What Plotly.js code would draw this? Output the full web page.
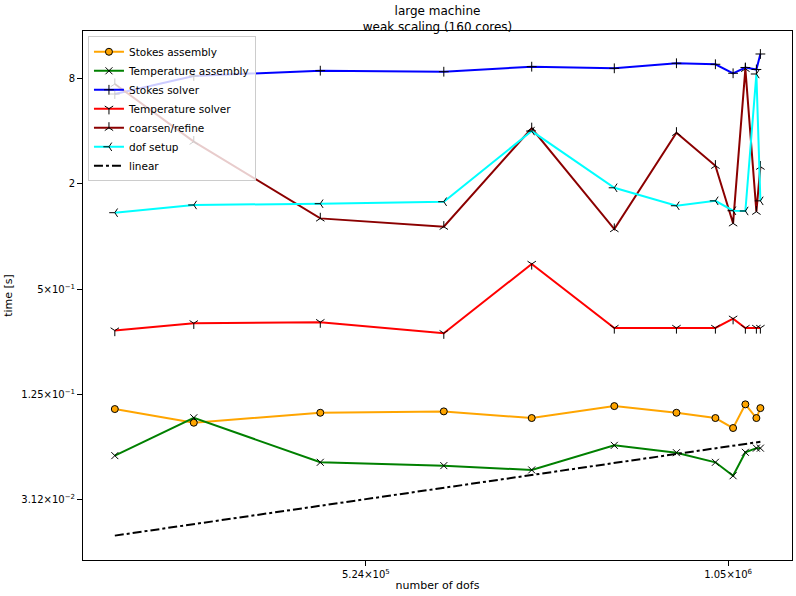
<!DOCTYPE html>
<html>
<head>
<meta charset="utf-8">
<script src="https://cdn.plot.ly/plotly-3.0.1.min.js"></script>
<style>
  body { margin: 0; background: #fff; }
  #chart { width: 796px; height: 596px; }
</style>
</head>
<body>
<div id="chart"></div>
<script>
// number of dofs (x) and timings in seconds
const dofs = [324300, 377200, 480500, 608600, 720100, 843400, 949900, 1023400, 1058600, 1083800, 1106900, 1115400];

const stokesAssembly = [0.1032, 0.0862, 0.0983, 0.1001, 0.0917, 0.1073, 0.0983, 0.0917, 0.0804, 0.1098, 0.0917, 0.1045];
const temperatureAssembly = [0.0559, 0.0920, 0.0512, 0.0490, 0.0463, 0.0640, 0.0581, 0.0512, 0.0429, 0.0584, 0.0617, 0.0617];
const stokesSolver = [6.53, 8.28, 8.88, 8.76, 9.36, 9.16, 9.79, 9.66, 8.58, 9.26, 9.02, 11.06];
const temperatureSolver = [0.290, 0.319, 0.324, 0.280, 0.697, 0.300, 0.300, 0.300, 0.339, 0.300, 0.300, 0.300];
const coarsenRefine = [7.45, 3.49, 1.27, 1.138, 4.16, 1.104, 3.92, 2.54, 1.19, 9.10, 1.387, 2.51];
const dofSetup = [1.369, 1.515, 1.541, 1.582, 4.01, 1.90, 1.50, 1.60, 1.405, 1.40, 8.50, 1.60];
const linear = [0.0195, 0.0227, 0.0289, 0.0366, 0.0433, 0.0507, 0.0571, 0.0615, 0.0637, 0.0652, 0.0666, 0.0671];

const xTickVals = [524288, 1048576];
const xTickText = ['5.24×10<sup>5</sup>', '1.05×10<sup>6</sup>'];
const yTickVals = [0.03125, 0.125, 0.5, 2, 8];
const yTickText = ['3.12×10<sup>−2</sup>', '1.25×10<sup>−1</sup>', '5×10<sup>−1</sup>', '2', '8'];

function series(name, y, color, symbol, extra) {
  const t = {
    x: dofs, y: y, name: name, type: 'scatter', mode: 'lines+markers',
    line: { color: color, width: 2 },
    marker: { symbol: symbol, size: 7, color: 'black', line: { color: 'black', width: 1 } }
  };
  return Object.assign(t, extra || {});
}

const traces = [
  series('Stokes assembly', stokesAssembly, 'orange', 'circle',
    { marker: { symbol: 'circle', size: 7, color: 'orange', line: { color: 'black', width: 1 } } }),
  series('Temperature assembly', temperatureAssembly, 'green', 'x-thin'),
  series('Stokes solver', stokesSolver, 'blue', 'cross-thin'),
  series('Temperature solver', temperatureSolver, 'red', 'y-down'),
  series('coarsen/refine', coarsenRefine, 'darkred', 'y-up'),
  series('dof setup', dofSetup, 'cyan', 'y-left'),
  { x: dofs, y: linear, name: 'linear', type: 'scatter', mode: 'lines',
    line: { color: 'black', width: 2, dash: 'dashdot' } }
];

const axisCommon = {
  type: 'log',
  showgrid: false,
  zeroline: false,
  showline: true,
  linecolor: 'black',
  linewidth: 1,
  mirror: true,
  ticks: 'outside',
  ticklen: 5,
  tickcolor: 'black',
  tickfont: { family: 'DejaVu Sans', size: 10, color: 'black' }
};

const layout = {
  width: 796,
  height: 596,
  paper_bgcolor: 'white',
  plot_bgcolor: 'white',
  font: { family: 'DejaVu Sans', size: 11, color: 'black' },
  margin: { l: 83, r: 4, t: 31, b: 36 },
  title: {
    text: 'large machine<br>weak scaling (160 cores)',
    font: { family: 'DejaVu Sans', size: 12, color: 'black' },
    xref: 'paper', x: 0.5, xanchor: 'center',
    yref: 'container', y: 0.975, yanchor: 'top'
  },
  xaxis: Object.assign({}, axisCommon, {
    range: [5.4845, 6.0737],
    tickvals: xTickVals, ticktext: xTickText,
    title: { text: 'number of dofs', font: { family: 'DejaVu Sans', size: 11 }, standoff: 2 }
  }),
  yaxis: Object.assign({}, axisCommon, {
    range: [-1.8493, 1.1752],
    tickvals: yTickVals, ticktext: yTickText,
    title: { text: 'time [s]', font: { family: 'DejaVu Sans', size: 11 }, standoff: 6 }
  }),
  legend: {
    x: 0.007, y: 0.99, xanchor: 'left', yanchor: 'top',
    bgcolor: 'rgba(255,255,255,0.8)',
    bordercolor: '#cccccc', borderwidth: 1,
    font: { family: 'DejaVu Sans', size: 10.5, color: 'black' },
    itemwidth: 30,
    tracegroupgap: 0
  },
  showlegend: true
};

Plotly.newPlot('chart', traces, layout, { displayModeBar: false, staticPlot: true });
</script>
</body>
</html>
